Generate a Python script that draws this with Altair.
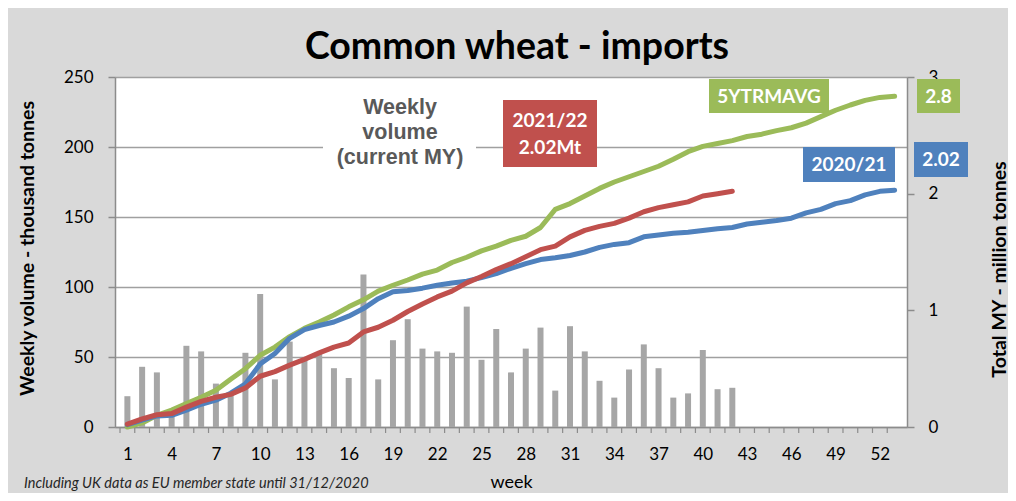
import altair as alt
import pandas as pd

FONT = "Lato"

# ---- data ----
weeks = list(range(1, 54))
weekly_kt = [22, 43, 39, 10, 58, 54, 31, 25, 53, 95, 34, 61, 48, 53, 42, 35, 109, 34, 62, 77,
             56, 54, 53, 86, 48, 70, 39, 56, 71, 26, 72, 54, 33, 21, 41, 59, 42, 21, 24, 55,
             27, 28]
cum_2021_22 = [0.025, 0.07, 0.105, 0.115, 0.17, 0.22, 0.255, 0.28, 0.335, 0.435,
               0.475, 0.53, 0.58, 0.635, 0.685, 0.72, 0.815, 0.855, 0.915, 0.99,
               1.055, 1.115, 1.165, 1.235, 1.29, 1.35, 1.4, 1.46, 1.52, 1.55,
               1.63, 1.685, 1.72, 1.745, 1.79, 1.845, 1.88, 1.905, 1.93, 1.98,
               2.0, 2.02]
cum_2020_21 = [0.02, 0.06, 0.095, 0.1, 0.145, 0.195, 0.23, 0.29, 0.37, 0.54,
               0.63, 0.76, 0.835, 0.87, 0.9, 0.95, 1.015, 1.1, 1.16, 1.17,
               1.19, 1.215, 1.235, 1.25, 1.28, 1.315, 1.36, 1.4, 1.435, 1.45,
               1.47, 1.5, 1.54, 1.565, 1.58, 1.63, 1.645, 1.66, 1.67, 1.685,
               1.7, 1.71, 1.74, 1.755, 1.77, 1.79, 1.835, 1.865, 1.915, 1.94,
               1.99, 2.02, 2.03]
cum_5yr_avg = [0.0, 0.035, 0.1, 0.145, 0.2, 0.255, 0.315, 0.41, 0.5, 0.615,
               0.685, 0.775, 0.845, 0.9, 0.96, 1.03, 1.09, 1.165, 1.215, 1.26,
               1.31, 1.345, 1.41, 1.455, 1.51, 1.55, 1.6, 1.635, 1.71, 1.865,
               1.915, 1.98, 2.045, 2.1, 2.145, 2.19, 2.235, 2.295, 2.36, 2.405,
               2.43, 2.455, 2.49, 2.51, 2.54, 2.565, 2.605, 2.66, 2.715, 2.76,
               2.8, 2.825, 2.835]
x_label_weeks = list(range(1, 53, 3))
left_ticks = [0, 50, 100, 150, 200, 250]
right_ticks = [0, 1, 2, 3]

title_text = "Common wheat - imports"
weekly_note = "Weekly\nvolume\n(current MY)"
label_2122 = "2021/22\n2.02Mt"
label_avg = "5YTRMAVG"
label_2021 = "2020/21"
end_avg = "2.8"
end_2021 = "2.02"
footnote = "Including UK data as EU member state until 31/12/2020"

GREEN = "#9bbb59"
RED = "#c0504d"
BLUE = "#4f81bd"
BAR = "#a6a6a6"
GRID = "#a0a0a0"
AXIS = "#8c8c8c"

W, H = 792, 350

bars_df = pd.DataFrame({"week": weeks[:len(weekly_kt)], "kt": weekly_kt})
edges_df = pd.DataFrame({"week": weeks})
red_df = pd.DataFrame({"week": weeks[:len(cum_2021_22)], "mt": cum_2021_22})
blue_df = pd.DataFrame({"week": weeks[:len(cum_2020_21)], "mt": cum_2020_21})
green_df = pd.DataFrame({"week": weeks[:len(cum_5yr_avg)], "mt": cum_5yr_avg})

xscale = alt.Scale(domain=[0.5, 53.5], nice=False, zero=False)
xaxis = alt.Axis(values=x_label_weeks, ticks=False, tickSize=0, grid=False,
                 domainColor=AXIS, domainWidth=1.5, labelPadding=19, labelFlush=False,
                 labelFontSize=17, labelFont=FONT, labelColor="black",
                 title="week", titleFont=FONT, titleFontSize=18, titleFontWeight="normal",
                 titleColor="black", titleX=396, titleY=55, titleBaseline="middle",
                 titleAlign="center")
leftaxis = alt.Axis(values=left_ticks, grid=True, gridColor=GRID, gridWidth=1.5,
                    tickSize=7, tickColor=AXIS, tickWidth=1.5,
                    domainColor=AXIS, domainWidth=1.5, labelPadding=15,
                    labelFontSize=17, labelFont=FONT, labelColor="black",
                    title="Weekly volume - thousand tonnes", titleFont=FONT,
                    titleFontSize=19.5, titleFontWeight="bold", titleColor="black",
                    titleX=-88, titleY=171, titleBaseline="middle", titleAngle=270,
                    titleAlign="center")
rightaxis = alt.Axis(orient="right", values=right_ticks, grid=False,
                     tickSize=7, tickColor=AXIS, tickWidth=1.5,
                     domainColor=AXIS, domainWidth=1.5, labelPadding=14,
                     labelFontSize=17, labelFont=FONT, labelColor="black",
                     title="Total MY - million tonnes", titleFont=FONT,
                     titleFontSize=19.5, titleFontWeight="bold", titleColor="black",
                     titleX=92, titleY=192, titleBaseline="middle", titleAngle=270,
                     titleAlign="center")

bars = alt.Chart(bars_df).mark_bar(size=6, color=BAR).encode(
    x=alt.X("week:Q", scale=xscale, axis=xaxis),
    y=alt.Y("kt:Q", scale=alt.Scale(domain=[0, 250], nice=False), axis=leftaxis),
)

edge_ticks = alt.Chart(edges_df).transform_calculate(
    edge="datum.week - 0.5"
).mark_rule(color=AXIS, strokeWidth=1.2).encode(
    x=alt.X("edge:Q", scale=xscale, axis=xaxis),
    y=alt.value(H), y2=alt.value(H + 6),
)

yline = alt.Y("mt:Q", scale=alt.Scale(domain=[0, 3], nice=False), axis=rightaxis)


def line(df, color):
    return alt.Chart(df).mark_line(color=color, strokeWidth=5, strokeCap="round",
                                   strokeJoin="round").encode(
        x=alt.X("week:Q", scale=xscale, axis=xaxis), y=yline)


lines = alt.layer(line(green_df, GREEN), line(blue_df, BLUE), line(red_df, RED))


def box(x1, x2, y1, y2, fill):
    return alt.Chart(pd.DataFrame({"a": [0]})).mark_rect(color=fill).encode(
        x=alt.value(x1), x2=alt.value(x2), y=alt.value(y1), y2=alt.value(y2))


def label(text, x, y, size=19, color="white", font=FONT, weight="bold",
          line_height=27, align="center", style="normal"):
    return alt.Chart(pd.DataFrame({"t": [text]})).mark_text(
        font=font, fontSize=size, fontWeight=weight, color=color, align=align,
        baseline="middle", lineBreak="\n", lineHeight=line_height, fontStyle=style
    ).encode(x=alt.value(x), y=alt.value(y), text="t:N")


note_bg = box(208, 361, 16, 97, "white")
note_txt = label(weekly_note, 285, 31, size=21.5, color="#595959",
                 font="Liberation Sans", line_height=25)

red_box = box(388, 482, 23, 90, RED)
red_txt = label(label_2122, 435, 44)
green_box = box(594, 714, 2, 36, GREEN)
green_txt = label(label_avg, 654, 19.5)
blue_box = box(688, 780, 70, 105, BLUE)
blue_txt = label(label_2021, 734, 88)
green_end_box = box(802, 845, 2, 36, GREEN)
green_end_txt = label(end_avg, 823.5, 19.5)
blue_end_box = box(799, 853, 65, 100, BLUE)
blue_end_txt = label(end_2021, 826, 83)

title = alt.Chart(pd.DataFrame({"t": [title_text]})).mark_text(
    font=FONT, fontSize=37.5, fontWeight="bold", color="black", align="center",
    baseline="alphabetic"
).encode(x=alt.value(402), y=alt.value(-18), text="t:N")

foot = label(footnote, -91, 407, size=14.5, color="#262626", weight="normal",
             align="left", style="italic")

chart = alt.layer(
    bars, edge_ticks, lines,
    note_bg, note_txt,
    red_box, red_txt, green_box, green_txt, blue_box, blue_txt,
    green_end_box, green_end_txt, blue_end_box, blue_end_txt,
    title, foot,
).resolve_scale(y="independent").properties(
    width=W, height=H,
    autosize=alt.AutoSizeParams(type="none"),
    padding={"left": 107, "top": 69, "right": 101, "bottom": 66},
    background="#d9d9d9",
).configure_view(fill="white", stroke="transparent")

chart.save("out.html", embed_options={"renderer": "svg", "actions": False})
